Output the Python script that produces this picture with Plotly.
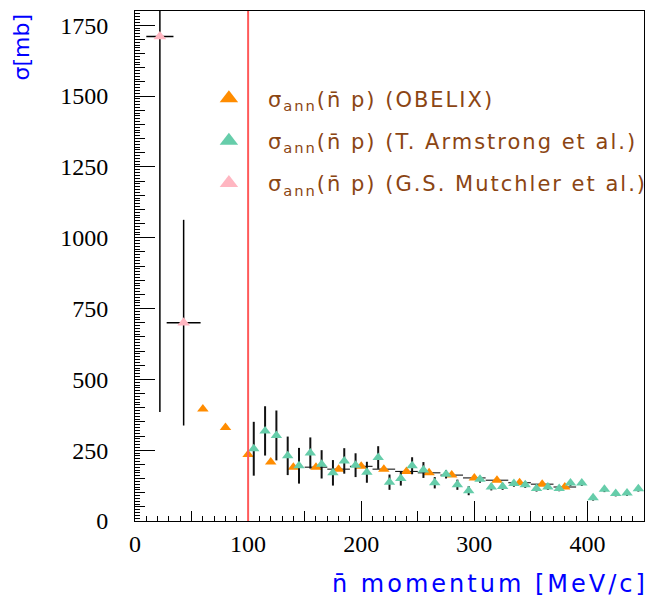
import plotly.graph_objects as go

# ---- data ----
obelix_p = [60, 80, 100, 120, 140, 160, 180, 200, 220, 240, 260, 280, 300, 320, 340, 360, 380]
obelix_sigma = [395, 330, 235, 208, 190, 190, 183, 193, 183, 175, 170, 162, 152, 144, 135, 130, 120]
obelix_dp = [0, 0, 0, 0, 0, 10, 10, 10, 10, 10, 10, 10, 10, 10, 10, 10, 10]

arm_p = [105, 115, 125, 135, 145, 155, 165, 175, 185, 195, 205, 215, 225, 235, 245, 255, 265,
         275, 285, 295, 305, 315, 325, 335, 345, 355, 365, 375, 385, 395, 405, 415, 425, 435, 445]
arm_sigma = [255, 318, 302, 230, 195, 240, 200, 170, 212, 197, 172, 224, 137, 150, 195, 180, 135,
             165, 128, 107, 147, 120, 122, 132, 128, 115, 120, 115, 134, 134, 82, 112, 97, 99, 114]
arm_err = [95, 87, 88, 68, 63, 55, 50, 45, 45, 42, 37, 40, 27, 25, 30, 28, 20,
           15, 18, 16, 12, 12, 12, 11, 11, 11, 10, 10, 10, 10, 10, 10, 10, 10, 10]

mut_p = [22, 43]
mut_sigma = [1710, 700]
mut_err = [1325, 363]
mut_dp = [12, 15]

threshold_p = 100
x_range = [0, 450]
y_range = [0, 1800]

LS = '<span style="letter-spacing:2px">'
names = [LS + "σ<sub>ann</sub>(n\u0304 p) (OBELIX)</span>",
         LS + "σ<sub>ann</sub>(n\u0304 p) (T. Armstrong et al.)</span>",
         LS + "σ<sub>ann</sub>(n\u0304 p) (G.S. Mutchler et al.)</span>"]
colors = ["#ff8c00", "#66cdaa", "#ffb6c1"]

fig = go.Figure()

fig.add_trace(go.Scatter(
    x=obelix_p, y=obelix_sigma, mode="markers",
    marker=dict(symbol="triangle-up", size=10, color=colors[0]),
    error_x=dict(type="data", array=obelix_dp, color="black", thickness=1, width=0),
    showlegend=False, hoverinfo="skip"))
fig.add_trace(go.Scatter(
    x=arm_p, y=arm_sigma, mode="markers",
    marker=dict(symbol="triangle-up", size=10, color=colors[1]),
    error_y=dict(type="data", array=arm_err, color="#111", thickness=2, width=0),
    showlegend=False, hoverinfo="skip"))
fig.add_trace(go.Scatter(
    x=mut_p, y=mut_sigma, mode="markers",
    marker=dict(symbol="triangle-up", size=11, color=colors[2]),
    error_y=dict(type="data", array=mut_err, color="black", thickness=1.5, width=0),
    error_x=dict(type="data", array=mut_dp, color="black", thickness=1.5, width=0),
    showlegend=False, hoverinfo="skip"))

# legend entries
for i, (n, c) in enumerate(zip(names, colors)):
    fig.add_trace(go.Scatter(
        x=[None], y=[None], mode="markers", name=n, legendgroup=f"g{i}",
        marker=dict(symbol="triangle-up", size=16, color=c)))

# helper axes for medium ticks
fig.add_trace(go.Scatter(x=[None], y=[None], xaxis="x2", yaxis="y2",
                         showlegend=False, hoverinfo="skip"))

fig.add_vline(x=threshold_p, line=dict(color="#ff5a5a", width=2), layer="above")

tickfont = dict(family="Liberation Serif", size=24, color="black")

# page body has an 8px margin: shrink figure so it fits the 661x606 window
fig.update_layout(
    width=645, height=590,
    margin=dict(l=127, r=9, t=3, b=77, autoexpand=False),
    paper_bgcolor="white", plot_bgcolor="white",
    xaxis=dict(range=x_range, dtick=100, ticks="inside", ticklen=20, tickwidth=1,
               tickcolor="black", showline=True, linecolor="black", linewidth=1, mirror=True,
               showgrid=False, zeroline=False, tickfont=tickfont, ticklabelstandoff=1,
               minor=dict(dtick=10, ticks="inside", ticklen=5, tickcolor="black", showgrid=False)),
    yaxis=dict(range=y_range, dtick=250, ticks="inside", ticklen=20, tickwidth=1,
               tickcolor="black", showline=True, linecolor="black", linewidth=1, mirror=True,
               showgrid=False, zeroline=False, tickfont=tickfont, ticklabelstandoff=21,
               minor=dict(dtick=10, ticks="inside", ticklen=5, tickcolor="black", showgrid=False)),
    xaxis2=dict(range=x_range, overlaying="x", anchor="y2", side="bottom", dtick=50,
                ticks="inside", ticklen=10, tickcolor="black", showticklabels=False,
                showline=False, showgrid=False, zeroline=False),
    yaxis2=dict(range=y_range, overlaying="y", anchor="x2", side="left", dtick=50,
                ticks="inside", ticklen=10, tickcolor="black", showticklabels=False,
                showline=False, showgrid=False, zeroline=False),
    legend=dict(xref="container", yref="container", x=0.282, y=0.881,
                xanchor="left", yanchor="top",
                bgcolor="rgba(0,0,0,0)", borderwidth=0, itemwidth=68,
                font=dict(family="DejaVu Sans", size=21, color="#8b4513"),
                tracegroupgap=12),
    showlegend=True,
    annotations=[
        dict(text="σ[mb]", textangle=-90, xref="paper", yref="paper",
             x=-0.222, y=0.998, xanchor="center", yanchor="top", showarrow=False,
             font=dict(family="DejaVu Sans", size=22, color="blue")),
        dict(text='<span style="letter-spacing:3px">n\u0304 momentum [MeV/c]</span>',
             xref="paper", yref="paper",
             x=1.012, y=-0.124, xanchor="right", yanchor="middle", showarrow=False,
             font=dict(family="DejaVu Sans", size=24, color="blue")),
    ],
)

fig.write_html("out.html")
